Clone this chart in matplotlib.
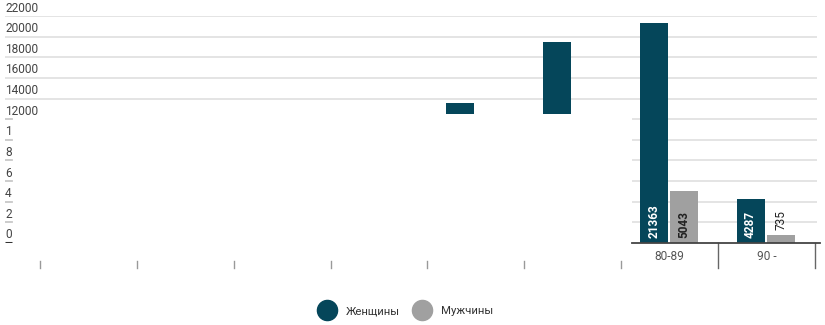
import numpy as np
import matplotlib.pyplot as plt
from matplotlib.patches import Rectangle
from matplotlib.lines import Line2D

plt.rcParams['font.family'] = ['Roboto', 'DejaVu Sans']

# data (first categories are hidden in the reference)
categories = ['', '', '', '', '', '', '80-89', '90 -']
women = [np.nan, np.nan, np.nan, np.nan, 13550, 19450, 21363, 4287]
men = [np.nan, np.nan, np.nan, np.nan, np.nan, np.nan, 5043, 735]
labelled = [6, 7]
ytick_values = [0, 2000, 4000, 6000, 8000, 10000, 12000, 14000, 16000, 18000, 20000, 22000]
ytick_labels = ['0', '2', '4', '6', '8', '1', '12000', '14000', '16000', '18000', '20000', '22000']
hidden_below = 12500

W, H = 825, 325
c_women = '#05465a'
c_men = '#a0a0a0'
c_grid = '#e2e2e2'

fig = plt.figure(figsize=(W / 100, H / 100), dpi=100)
# axes in pixels: x 5..817, y 16..243
ax = fig.add_axes([5 / W, (H - 243) / H, 812 / W, 227 / H])
cat_px = 96.875
x0 = -0.5 - 35 / cat_px
x1 = 7.5 + 2 / cat_px
ax.set_xlim(x0, x1)
ax.set_ylim(0, 22000)
ax.axis('off')
dpx = 22000 / 227  # data units per pixel (y)
xpx = 1 / cat_px   # data units per pixel (x)
right_start = 6 - 0.5 + (633 - 622) * xpx

# gridlines
for v in ytick_values:
    if v > 12000:
        ax.plot([x0, x1], [v, v], color=c_grid, lw=1.3, zorder=0)
    elif v > 0:
        ax.plot([x0, x0 + 7 * xpx], [v, v], color='#c8c8c8', lw=1.3, zorder=0)
        ax.plot([right_start, x1], [v, v], color=c_grid, lw=1.3, zorder=0)
ax.plot([x0, x0 + 7 * xpx], [0, 0], color='#333333', lw=2.2, zorder=3, solid_capstyle='butt')
ax.plot([right_start, x1 + 3 * xpx], [0, 0], color='#444444', lw=1.3, zorder=3, clip_on=False)

for v, lab in zip(ytick_values, ytick_labels):
    ax.text(x0, v + 8 * dpx, lab, ha='left', va='center', fontsize=8.6, color='#444444')

x = np.arange(len(categories))
bw = 0.29
ax.bar(x - 0.165, women, bw, color=c_women, zorder=2)
ax.bar(x + 0.15, men, bw, color=c_men, zorder=2)

# area covered in the reference render
ax.add_patch(Rectangle((x0 + 15 * xpx, -14 * dpx), right_start - x0 - 15 * xpx, hidden_below + 14 * dpx,
                       facecolor='white', edgecolor='none', zorder=2.5, clip_on=False))

for i in labelled:
    ax.text(x[i] - 0.165, 5 * dpx, f'{women[i]:.0f}', rotation=90, ha='center', va='bottom',
            color='white', fontsize=8.5, fontweight='bold', zorder=4)
    m = men[i]
    if m > 2500:
        ax.text(x[i] + 0.15, 5 * dpx, f'{m:.0f}', rotation=90, ha='center', va='bottom',
                color='#222222', fontsize=8.5, fontweight='bold', zorder=4)
    else:
        ax.text(x[i] + 0.15, m + 5 * dpx, f'{m:.0f}', rotation=90, ha='center', va='bottom',
                color='#222222', fontsize=8.5, zorder=4)
    ax.text(x[i], -14 * dpx, categories[i], ha='center', va='center', fontsize=8.6, color='#555555')

# category boundaries
for b in np.arange(-0.5, 6, 1.0):
    ax.plot([b, b], [-18 * dpx, -25 * dpx], color='#999999', lw=1.0, clip_on=False)
for b in [6.5, 7.5]:
    ax.plot([b, b], [0, -25 * dpx], color='#666666', lw=1.0, clip_on=False)

handles = [Line2D([], [], marker='o', ls='', color=c_women, markersize=14.5),
           Line2D([], [], marker='o', ls='', color=c_men, markersize=14.5)]
fig.legend(handles, ['Женщины', 'Мужчины'], loc='center', bbox_to_anchor=(406 / W, 1 - 311 / H),
           ncol=2, frameon=False, fontsize=8.2, handlelength=1.4, handletextpad=0.9,
           columnspacing=1.3, labelcolor='#333333')

fig.savefig('out.png', dpi=100)
